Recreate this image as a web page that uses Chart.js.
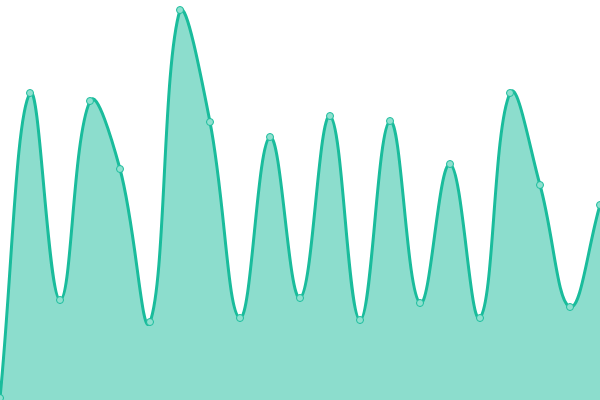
<!DOCTYPE html>
<html>
<head>
<meta charset="utf-8">
<script src="https://cdn.jsdelivr.net/npm/chart.js@4/dist/chart.umd.min.js"></script>
<style>
  html, body { margin: 0; padding: 0; background: #fff; }
  #wrap { width: 600px; height: 400px; }
</style>
</head>
<body>
<div id="wrap"><canvas id="chart"></canvas></div>
<script>
// data (scale 0..400)
const labels = ["1", "2", "3", "4", "5", "6", "7", "8", "9", "10", "11",
  "12", "13", "14", "15", "16", "17", "18", "19", "20", "21"];
const values = [2, 307, 100, 299, 231, 78, 390, 278, 82, 263, 102,
  284, 80, 279, 97, 236, 82, 307, 215, 93, 195];
const yMin = 0;
const yMax = 400;

const lineColor = "#1abc9c";

new Chart(document.getElementById("chart"), {
  type: "line",
  data: {
    labels: labels,
    datasets: [
      {
        data: values,
        borderColor: lineColor,
        backgroundColor: "rgba(26, 188, 156, 0.5)",
        borderWidth: 3,
        tension: 0.4,
        fill: true,
        pointRadius: 3.5,
        pointBorderWidth: 1,
        pointBorderColor: lineColor,
        pointBackgroundColor: "#8fe0cf",
      },
    ],
  },
  options: {
    responsive: true,
    maintainAspectRatio: false,
    animation: false,
    layout: { padding: 0, autoPadding: false },
    scales: {
      x: { display: false },
      y: { display: false, min: yMin, max: yMax },
    },
    plugins: {
      legend: { display: false },
      tooltip: { enabled: false },
    },
  },
});
</script>
</body>
</html>
